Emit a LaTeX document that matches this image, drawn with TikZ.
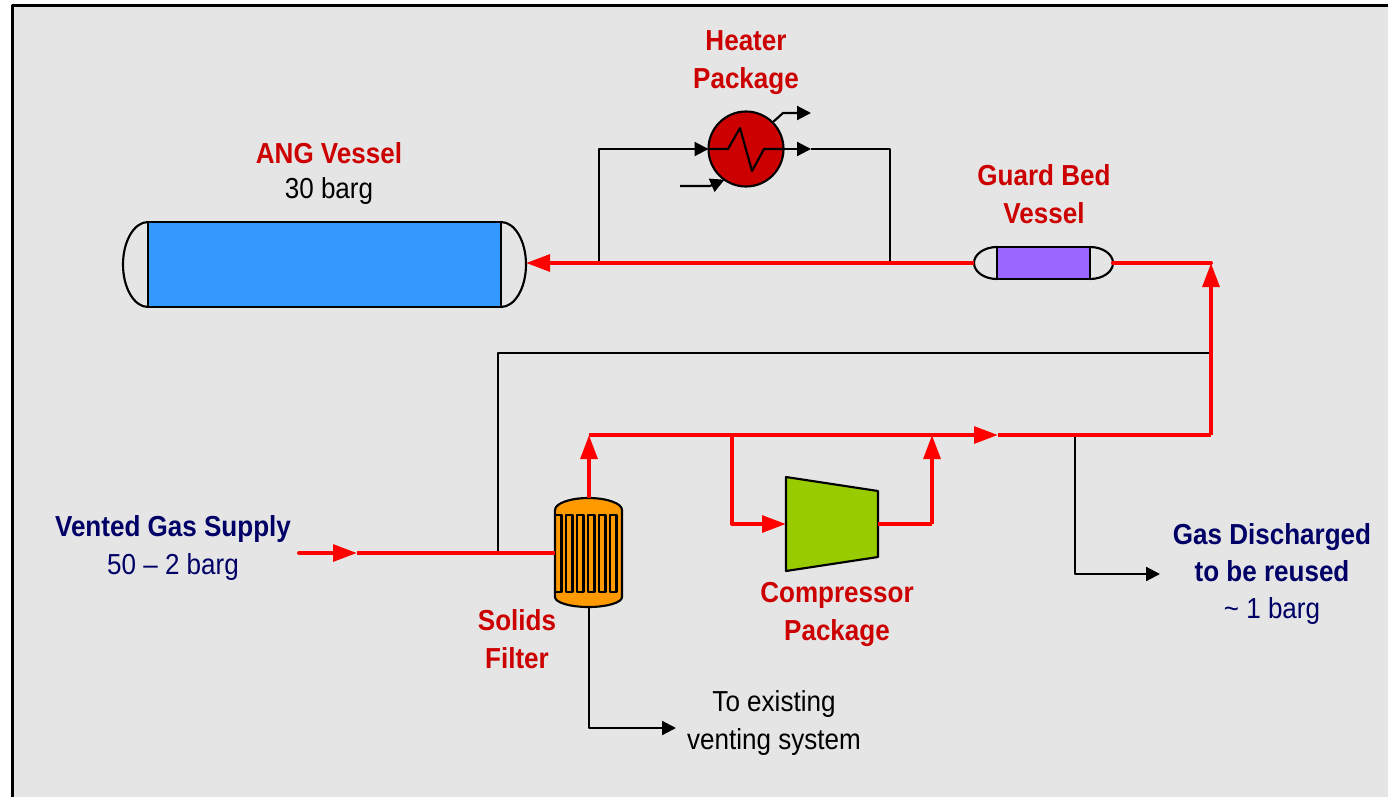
\documentclass[tikz,border=0pt]{standalone}
\usepackage{fontspec}
\setmainfont[FakeStretch=0.9]{Liberation Sans}
\usepackage{tikz}
\usetikzlibrary{arrows.meta,positioning,calc}
\definecolor{panel}{HTML}{E5E5E5}
\definecolor{tagred}{HTML}{CC0000}
\definecolor{tagnavy}{HTML}{000066}
\definecolor{angblue}{HTML}{3399FF}
\definecolor{guardviolet}{HTML}{9966FF}
\definecolor{filtorange}{HTML}{FF9900}
\definecolor{compgreen}{HTML}{99CC00}

\begin{document}
\begin{tikzpicture}[
    x=0.75pt, y=-0.75pt,
    font=\fontsize{21.7}{28}\selectfont,
    line join=round,
    gas/.style={line width=3pt, draw=red},
    gasto/.style={gas, -{Triangle[length=18pt,width=12.5pt]}},
    pipe/.style={line width=1.6pt, draw=black},
    pipeto/.style={pipe, -{Triangle[length=10.5pt,width=10.5pt]}},
    body/.style={rectangle, draw=black, line width=1.6pt, inner sep=0pt, outer sep=0pt},
    shell/.style={draw=black, line width=1.6pt},
    tag/.style={text=tagred, font=\fontsize{21.7}{28}\selectfont\bfseries, align=center, inner sep=0pt},
    feed/.style={text=tagnavy, align=center, inner sep=0pt},
    note/.style={text=black, align=center, inner sep=0pt}
  ]
  \useasboundingbox (0,0) rectangle (1388,797);
  \fill[panel] (12,5) rectangle (1388,797);
  \draw[line width=2.25pt] (12,797) -- (12,5) -- (1388,5);

  % junctions and free ends
  \coordinate (ventin) at (299,553);
  \coordinate (ventmid) at (357,553);
  \coordinate (recyc) at (498,553);
  \coordinate (angin) at (526,263);
  \coordinate (hotl) at (599,263);
  \coordinate (hotr) at (890,263);
  \coordinate (guardl) at (974,263);
  \coordinate (guardr) at (1113,263);
  \coordinate (corner) at (1211,263);
  \coordinate (recycr) at (1211,353);
  \coordinate (topl) at (589,435);
  \coordinate (compin) at (732,435);
  \coordinate (compout) at (932,435);
  \coordinate (topmid) at (998,435);
  \coordinate (disch) at (1075,435);
  \coordinate (topr) at (1211,435);
  \coordinate (filtin) at (555,553);
  \coordinate (filttop) at (589,498);
  \coordinate (filtbot) at (589,607);
  \coordinate (venttip) at (676,728);
  \coordinate (dischtip) at (1160,574);

  % vessels
  \node[body, fill=angblue, minimum width=264.75pt, minimum height=63.75pt] (ang) at (324.5,264.5) {};
  \draw[shell] (ang.north west) arc[start angle=90, end angle=270, x radius=18.75pt, y radius=31.875pt];
  \draw[shell] (ang.north east) arc[start angle=90, end angle=-90, x radius=18.75pt, y radius=31.875pt];
  \node[body, fill=guardviolet, minimum width=69.75pt, minimum height=24pt] (guard) at (1043.5,263) {};
  \draw[shell] (guard.north west) arc[start angle=90, end angle=270, x radius=17.25pt, y radius=12pt];
  \draw[shell] (guard.north east) arc[start angle=90, end angle=-90, x radius=17.25pt, y radius=12pt];

  % filter
  \node[rectangle, inner sep=0pt, outer sep=0pt, minimum width=50.25pt, minimum height=65.25pt] (filter) at (588.5,553.5) {};
  \draw[shell, fill=filtorange] (filter.south west) -- (filter.north west)
    arc[start angle=180, end angle=0, x radius=25.125pt, y radius=9pt] -- (filter.south east)
    arc[start angle=0, end angle=-180, x radius=25.125pt, y radius=7.5pt] -- cycle;
  \foreach \fx in {555,566,577,588,599,610}
    \draw[shell] (\fx,515) rectangle (\fx+6.5,592);

  % heater
  \node[circle, draw=black, line width=1.6pt, fill=tagred, minimum size=56.25pt, inner sep=0pt, outer sep=0pt] (heat) at (746,149) {};
  \draw[pipe] (heat.west) -- (728,149) -- (740,128) -- (752,171) -- (764,149) -- (heat.east);
  \draw[pipeto] (heat.45) -- (783,113) -- (811,113);
  \draw[pipeto] (680,186) -- (710,186) -- (heat.235);

  % compressor
  \node[inner sep=0pt, outer sep=0pt, minimum width=69pt, minimum height=70.5pt] (comp) at (832,524) {};
  \draw[shell, fill=compgreen] (comp.north west) -- (878,491) -- (878,557) -- (comp.south west) -- cycle;

  % black lines
  \draw[pipe] (recyc) -- (recyc |- recycr) -- (recycr);
  \draw[pipeto] (hotl) -- (hotl |- heat) -- (heat.west);
  \draw[pipeto] (heat.east) -- (811,149);
  \draw[pipe] (811,149) -- (hotr |- heat) -- (hotr);
  \draw[pipeto] (disch) -- (disch |- dischtip) -- (dischtip);
  \draw[pipeto] (filtbot) -- (filtbot |- venttip) -- (venttip);

  % red lines
  \draw[gasto, line cap=round] (ventin) -- (ventmid);
  \draw[gas] (ventmid) -- (filtin);
  \draw[gasto] (filttop) -- (topl);
  \draw[gasto] (topl) -- (topmid);
  \draw[gas] (topmid) -- (topr);
  \draw[gasto] (topr) -- (corner);
  \draw[gas, line cap=round] (guardr) -- (corner);
  \draw[gasto] (guardl) -- (angin);
  \draw[gasto] (compin) -- (compin |- comp) -- (comp.west);
  \draw[gas] (comp.east) -- (compout |- comp);
  \draw[gasto] (compout |- comp) -- (compout);

  % labels
  \node[tag] (heatlab) at (746,62.5) {Heater\\Package};
  \node[tag] (anglab) at (329,153) {ANG Vessel};
  \node[note] (angbar) at (329,191) {30 barg};
  \node[tag] (guardlab) at (1044,194) {Guard Bed\\Vessel};
  \node[tag, text=tagnavy] (ventlab) at (173,529) {Vented Gas Supply};
  \node[feed] (ventbar) at (173,567) {50 -- 2 barg};
  \node[tag] (filtlab) at (517,639) {Solids\\Filter};
  \node[tag] (complab) at (837,614.5) {Compressor\\Package};
  \node[tag, text=tagnavy] (dischlab) at (1272,552.5) {Gas Discharged\\to be reused};
  \node[feed] (dischbar) at (1272,611) {\textasciitilde{} 1 barg};
  \node[note] (ventnote) at (774,723) {To existing\\venting system};
\end{tikzpicture}
\end{document}
